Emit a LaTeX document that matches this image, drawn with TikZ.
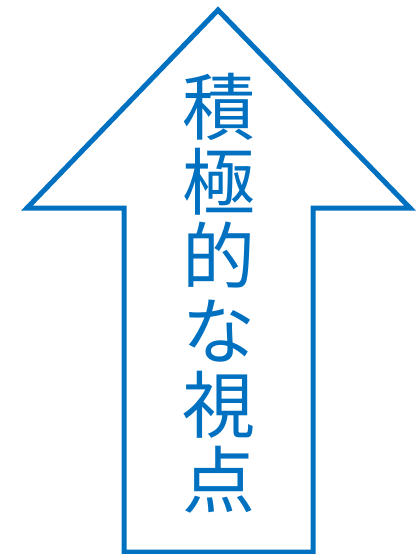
\documentclass[tikz,border=0pt]{standalone}
\usepackage{fontspec}
\newfontfamily\jpfont{Noto Sans CJK JP}
\usepackage{tikz}
\definecolor{arrowblue}{RGB}{0,112,192}

\begin{document}
\begin{tikzpicture}[x=1pt,y=-1pt]
\useasboundingbox (0,0) rectangle (416,554);
\draw[arrowblue, line width=5pt, miter limit=20] (218,10) -- (410,208) -- (313,208) -- (313,552) -- (124,552) -- (124,208) -- (27,208) -- cycle;
\node[text=arrowblue, align=center, font={\jpfont\fontsize{73}{74.5}\selectfont}] (label) at (218.5,293) {積\\極\\的\\な\\視\\点};
\end{tikzpicture}
\end{document}
